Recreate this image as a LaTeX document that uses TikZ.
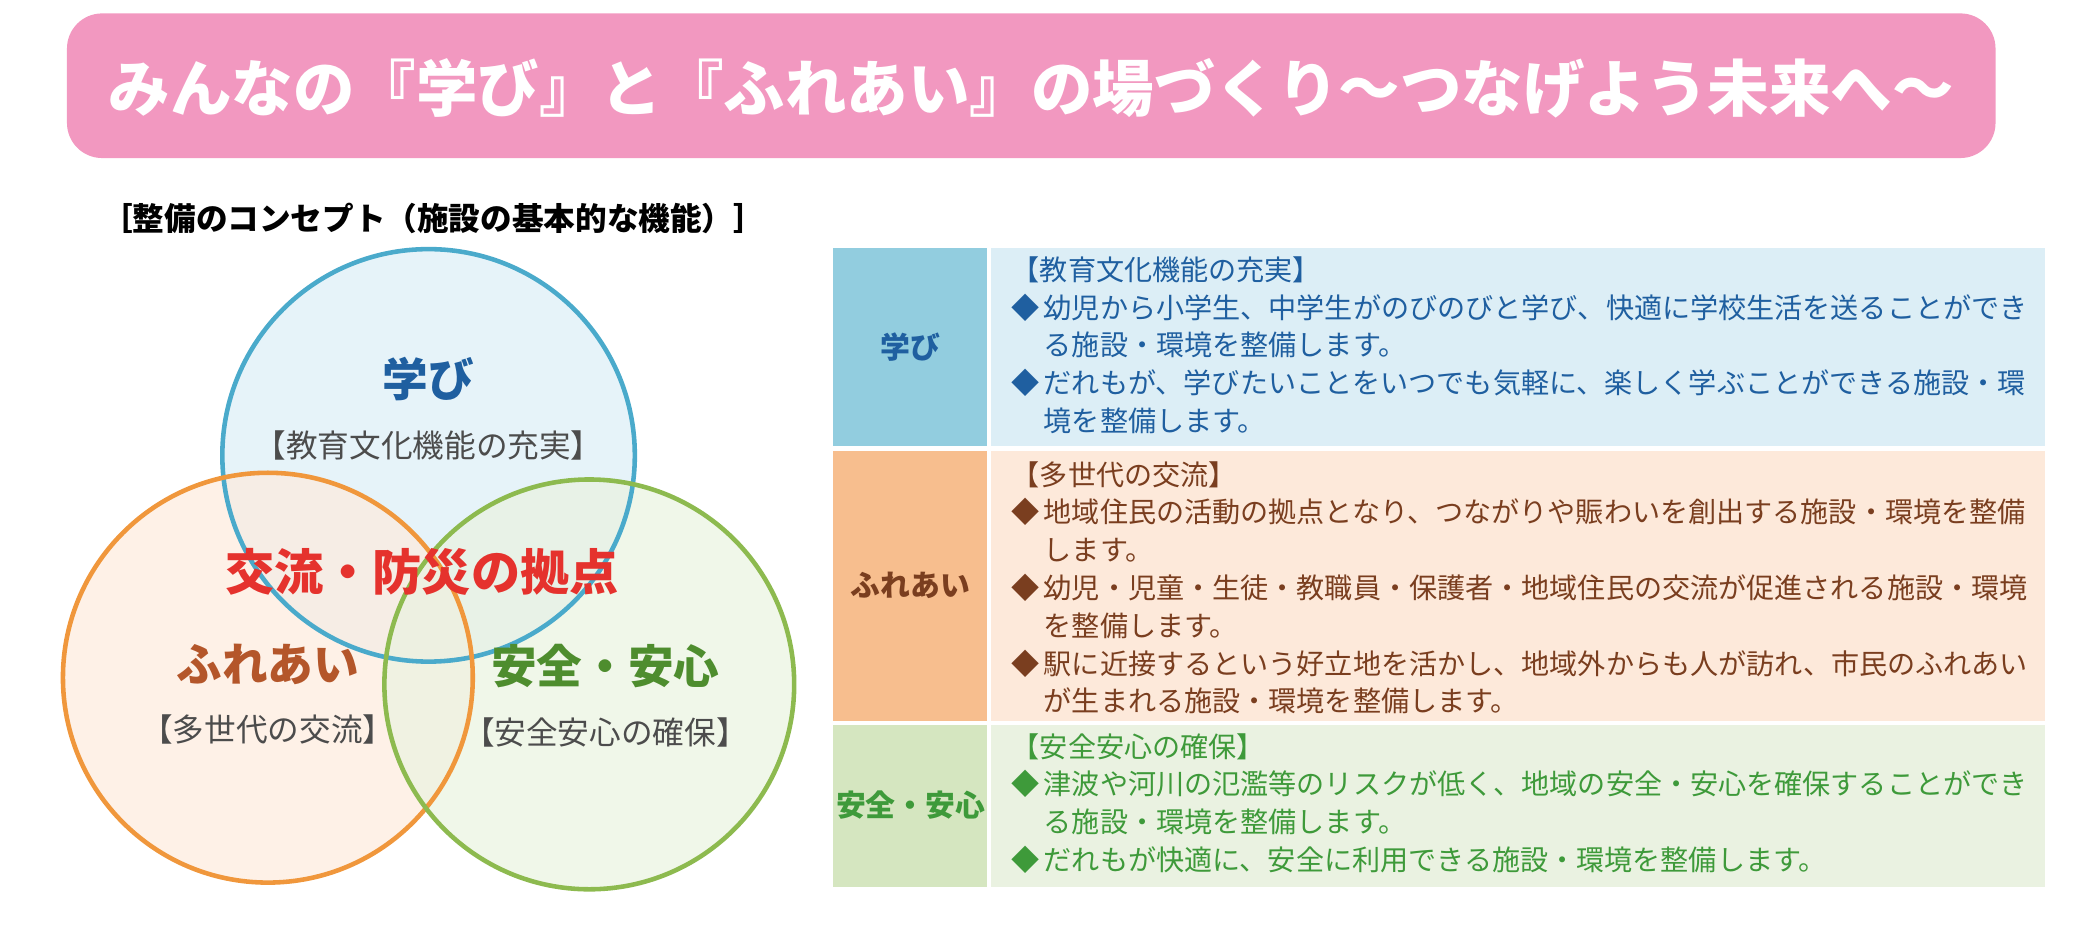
\documentclass[tikz,border=0pt]{standalone}
\usepackage{fontspec}
\setmainfont{Noto Sans CJK JP}
\usetikzlibrary{positioning}
\definecolor{bannerpink}{HTML}{F298C0}
\definecolor{manabiline}{HTML}{4AAACB}
\definecolor{fureline}{HTML}{F0973C}
\definecolor{anzenline}{HTML}{8DBA4F}
\definecolor{manabifill}{HTML}{DCEEF7}
\definecolor{furefill}{HTML}{FDEBDD}
\definecolor{anzenfill}{HTML}{EAF3E0}
\definecolor{manabitext}{HTML}{1F5FA0}
\definecolor{furetext}{HTML}{B4562A}
\definecolor{anzentext}{HTML}{4E8D2E}
\definecolor{kyotentext}{HTML}{E5322D}
\definecolor{manabihead}{HTML}{92CDDF}
\definecolor{manabibody}{HTML}{DCEEF6}
\definecolor{furehead}{HTML}{F7BE8E}
\definecolor{furebody}{HTML}{FDE9DA}
\definecolor{anzenhead}{HTML}{D5E6C0}
\definecolor{anzenbody}{HTML}{EAF2E1}
\definecolor{furebullet}{HTML}{7A3E1F}
\definecolor{anzenbullet}{HTML}{3E9A3A}
\newcommand\itm[1]{\makebox[0.32cm][l]{◆}#1}
\newcommand\cnt{\hspace*{0.32cm}}
\tikzset{
	venn/.style={circle, minimum size=4.1cm, line width=1.3pt, fill opacity=0.7},
	title/.style={font=\bfseries\fontsize{13}{15}\selectfont},
	sub/.style={text=black!70, font=\fontsize{9}{11}\selectfont},
	head/.style={font=\bfseries\fontsize{8.5}{10}\selectfont},
	body/.style={anchor=north west, inner sep=0pt, align=left, font=\fontsize{8}{10.75}\selectfont}
}
\begin{document}
\begin{tikzpicture}[x=0.013393cm, y=-0.013393cm]
	\useasboundingbox (0,0) rectangle (1568,705);
	% banner
	\fill[bannerpink, rounded corners=10pt] (50,10) rectangle (1490,118);
	\node[text=white, font=\bfseries\fontsize{17.5}{20}\selectfont](BANNER) at (770,66){みんなの『学び』と『ふれあい』の場づくり～つなげよう未来へ～};
	\node[anchor=west, font=\bfseries\fontsize{9}{11}\selectfont, inner sep=0pt](CONCEPT) at (75,163){［整備のコンセプト（施設の基本的な機能）］};
	
	% venn
	\node[venn, fill=manabifill](MANABI) at (320,340){};
	\node[venn, fill=furefill](FURE) at (200,506){};
	\node[venn, fill=anzenfill](ANZEN) at (440,511){};
	\draw[manabiline, line width=1.3pt] (MANABI) circle[radius=154];
	\draw[fureline, line width=1.3pt] (FURE) circle[radius=153];
	\draw[anzenline, line width=1.3pt] (ANZEN) circle[radius=153];
	
	\node[title, text=manabitext](T1) at (320,283){学び};
	\node[sub, below=0.05cm of T1](S1){【教育文化機能の充実】};
	\node[text=kyotentext, font=\bfseries\fontsize{14}{16}\selectfont](KYOTEN) at (315,427){交流・防災の拠点};
	\node[title, text=furetext](T2) at (200,496){ふれあい};
	\node[sub, below=0.05cm of T2](S2){【多世代の交流】};
	\node[title, text=anzentext](T3) at (452,497){安全・安心};
	\node[sub, below=0.05cm of T3](S3){【安全安心の確保】};
	
	% table
	\fill[manabihead] (622,185) rectangle (737,333);
	\fill[manabibody] (740,185) rectangle (1527,333);
	\fill[furehead] (622,337) rectangle (737,538);
	\fill[furebody] (740,337) rectangle (1527,538);
	\fill[anzenhead] (622,541) rectangle (737,662);
	\fill[anzenbody] (740,541) rectangle (1527,662);
	
	\node[head, text=manabitext](H1) at (680,259){学び};
	\node[head, text=furebullet](H2) at (680,437){ふれあい};
	\node[head, text=anzenbullet](H3) at (680,601){安全・安心};
	
	\node[body, text=manabitext](B1) at (755,191){%
		【教育文化機能の充実】\\
		\itm{幼児から小学生、中学生がのびのびと学び、快適に学校生活を送ることができ}\\
		\cnt る施設・環境を整備します。\\
		\itm{だれもが、学びたいことをいつでも気軽に、楽しく学ぶことができる施設・環}\\
		\cnt 境を整備します。};
	\node[body, text=furebullet](B2) at (755,344){%
		【多世代の交流】\\
		\itm{地域住民の活動の拠点となり、つながりや賑わいを創出する施設・環境を整備}\\
		\cnt します。\\
		\itm{幼児・児童・生徒・教職員・保護者・地域住民の交流が促進される施設・環境}\\
		\cnt を整備します。\\
		\itm{駅に近接するという好立地を活かし、地域外からも人が訪れ、市民のふれあい}\\
		\cnt が生まれる施設・環境を整備します。};
	\node[body, text=anzenbullet](B3) at (755,547){%
		【安全安心の確保】\\
		\itm{津波や河川の氾濫等のリスクが低く、地域の安全・安心を確保することができ}\\
		\cnt る施設・環境を整備します。\\
		\itm{だれもが快適に、安全に利用できる施設・環境を整備します。}};
\end{tikzpicture}
\end{document}
